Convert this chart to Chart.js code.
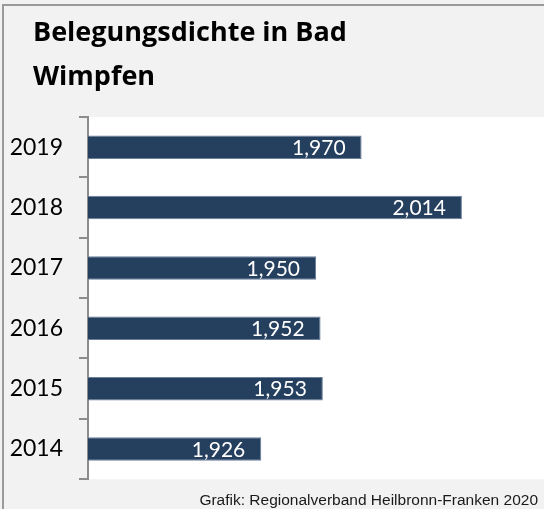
<!DOCTYPE html>
<html lang="de">
<head>
    <meta charset="UTF-8">
    <title>Belegungsdichte in Bad Wimpfen</title>
    <script src="https://cdn.jsdelivr.net/npm/chart.js"></script>
    <style>
        html, body { margin: 0; padding: 0; background: #f2f2f2; }
        #chart-container { width: 544px; height: 509px; }
    </style>
</head>
<body>
    <div id="chart-container">
        <canvas id="dichteChart"></canvas>
    </div>

    <script>
        // Daten
        const jahre = ['2019', '2018', '2017', '2016', '2015', '2014'];
        const belegungsdichte = [1.970, 2.014, 1.950, 1.952, 1.953, 1.926];
        const titelZeilen = ['Belegungsdichte in Bad', 'Wimpfen'];
        const quelle = 'Grafik: Regionalverband Heilbronn-Franken 2020';

        const fmt = v => v.toFixed(3).replace('.', ',');

        // Hintergrund, Rahmen, Titel und Quelle
        const rahmen = {
            id: 'rahmen',
            beforeDraw(chart) {
                const { ctx, chartArea: a, width, height } = chart;
                ctx.save();
                ctx.fillStyle = '#f2f2f2';
                ctx.fillRect(0, 0, width, height);
                ctx.fillStyle = '#ffffff';
                ctx.fillRect(a.left, a.top, a.right - a.left, a.bottom - a.top);
                ctx.strokeStyle = '#9a9a9a';
                ctx.lineWidth = 2;
                ctx.beginPath();
                ctx.moveTo(3, height);
                ctx.lineTo(3, 5);
                ctx.lineTo(width, 5);
                ctx.stroke();
                ctx.restore();
            },
            afterDraw(chart) {
                const { ctx } = chart;
                ctx.save();
                ctx.fillStyle = '#000000';
                ctx.font = 'bold 27px "Open Sans"';
                ctx.textAlign = 'left';
                ctx.textBaseline = 'alphabetic';
                titelZeilen.forEach((z, i) => ctx.fillText(z, 33, 41 + i * 44));
                ctx.font = '15.5px "Liberation Sans"';
                ctx.textAlign = 'right';
                ctx.fillStyle = '#1a1a1a';
                ctx.fillText(quelle, 538, 505);
                ctx.restore();
            }
        };

        // Werte in den Balken
        const werte = {
            id: 'werte',
            afterDatasetsDraw(chart) {
                const { ctx } = chart;
                const meta = chart.getDatasetMeta(0);
                ctx.save();
                ctx.fillStyle = '#ffffff';
                ctx.font = '21px Lato';
                ctx.textAlign = 'right';
                ctx.textBaseline = 'middle';
                meta.data.forEach((bar, i) => {
                    ctx.fillText(fmt(belegungsdichte[i]), bar.x - 16, bar.y + 1);
                });
                ctx.restore();
            }
        };

        new Chart(document.getElementById('dichteChart'), {
            type: 'bar',
            data: {
                labels: jahre,
                datasets: [{
                    data: belegungsdichte,
                    backgroundColor: '#253f5f',
                    borderColor: '#6b7f9c',
                    borderWidth: { top: 1, right: 1, bottom: 1, left: 0 },
                    borderSkipped: false,
                    barPercentage: 0.39,
                    categoryPercentage: 1
                }]
            },
            options: {
                indexAxis: 'y',
                responsive: true,
                maintainAspectRatio: false,
                animation: false,
                layout: { padding: { top: 117, bottom: 23, left: 0, right: 0 } },
                plugins: {
                    legend: { display: false },
                    tooltip: { enabled: false },
                    title: { display: false }
                },
                scales: {
                    x: {
                        display: false,
                        min: 1.85,
                        max: 2.05
                    },
                    y: {
                        afterFit(axis) { axis.width = 88; },
                        grid: {
                            drawOnChartArea: false,
                            tickLength: 9,
                            color: '#8c8c8c',
                            lineWidth: 2,
                            offset: true
                        },
                        border: { color: '#8c8c8c', width: 2 },
                        ticks: {
                            color: '#000000',
                            padding: 16,
                            font: { family: 'Lato', size: 23 }
                        }
                    }
                }
            },
            plugins: [rahmen, werte]
        });
    </script>
</body>
</html>
